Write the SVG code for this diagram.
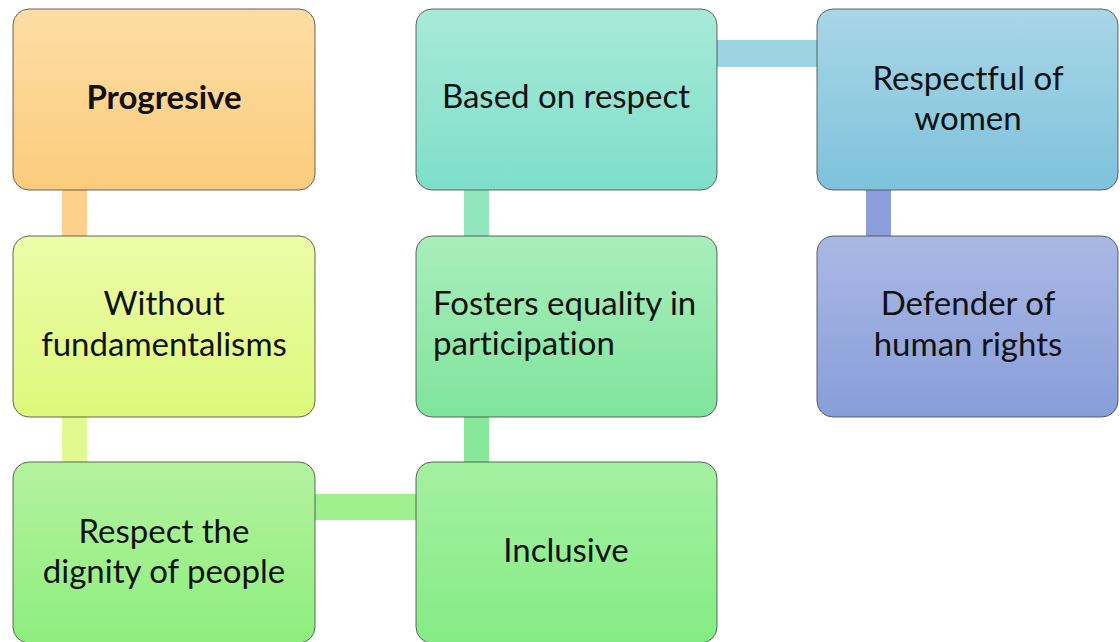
<svg xmlns="http://www.w3.org/2000/svg" width="1120" height="642" viewBox="0 0 1120 642">
  <defs>
    <linearGradient id="gOrange" x1="0" y1="0" x2="0" y2="1">
      <stop offset="0" stop-color="#FDDDA4"/>
      <stop offset="1" stop-color="#FBCC7C"/>
    </linearGradient>
    <linearGradient id="gYellow" x1="0" y1="0" x2="0" y2="1">
      <stop offset="0" stop-color="#EDFBA8"/>
      <stop offset="1" stop-color="#DCF97A"/>
    </linearGradient>
    <linearGradient id="gLime" x1="0" y1="0" x2="0" y2="1">
      <stop offset="0" stop-color="#B4F29E"/>
      <stop offset="1" stop-color="#8EEE7E"/>
    </linearGradient>
    <linearGradient id="gGreen" x1="0" y1="0" x2="0" y2="1">
      <stop offset="0" stop-color="#A4F0A2"/>
      <stop offset="1" stop-color="#84EC84"/>
    </linearGradient>
    <linearGradient id="gMint" x1="0" y1="0" x2="0" y2="1">
      <stop offset="0" stop-color="#A8EEBC"/>
      <stop offset="1" stop-color="#80E49C"/>
    </linearGradient>
    <linearGradient id="gTeal" x1="0" y1="0" x2="0" y2="1">
      <stop offset="0" stop-color="#A8EAD8"/>
      <stop offset="1" stop-color="#7EDECA"/>
    </linearGradient>
    <linearGradient id="gSky" x1="0" y1="0" x2="0" y2="1">
      <stop offset="0" stop-color="#A8D6E6"/>
      <stop offset="1" stop-color="#7EC2DC"/>
    </linearGradient>
    <linearGradient id="gPeri" x1="0" y1="0" x2="0" y2="1">
      <stop offset="0" stop-color="#AAB8E4"/>
      <stop offset="1" stop-color="#889EDA"/>
    </linearGradient>
  </defs>
  <style>
    .box { stroke: #4a4a4a; stroke-width: 1; stroke-opacity: 0.85; }
    .lbl { font-family: "Lato", "Liberation Sans", sans-serif; font-size: 33px; fill: #111; font-variant-ligatures: none; }
    .mid { text-anchor: middle; }
    .bold { font-weight: bold; }
  </style>

  <!-- links between neighbouring cards -->
  <g id="connectors">
    <rect x="62" y="190" width="25" height="46" fill="#FDD08C"/>
    <rect x="62" y="416" width="25" height="46" fill="#E2F992"/>
    <rect x="315" y="494" width="101" height="26" fill="#9EF08E"/>
    <rect x="464" y="416" width="25" height="46" fill="#88E89A"/>
    <rect x="464" y="190" width="25" height="46" fill="#92E6BE"/>
    <rect x="717" y="40" width="100" height="27" fill="#9ED4E2"/>
    <rect x="866" y="190" width="25" height="46" fill="#8C9EDA"/>
  </g>

  <g id="node-progresive">
    <rect class="box" x="13" y="9" width="302" height="181" rx="16" fill="url(#gOrange)"/>
    <text class="lbl mid bold" x="164" y="109">Progresive</text>
  </g>

  <g id="node-without-fundamentalisms">
    <rect class="box" x="13" y="236" width="302" height="181" rx="16" fill="url(#gYellow)"/>
    <text class="lbl mid" x="164" y="315">Without</text>
    <text class="lbl mid" x="164" y="356">fundamentalisms</text>
  </g>

  <g id="node-respect-dignity">
    <rect class="box" x="13" y="462" width="302" height="181" rx="16" fill="url(#gLime)"/>
    <text class="lbl mid" x="164" y="543">Respect the</text>
    <text class="lbl mid" x="164" y="583">dignity of people</text>
  </g>

  <g id="node-inclusive">
    <rect class="box" x="416" y="462" width="301" height="181" rx="16" fill="url(#gGreen)"/>
    <text class="lbl mid" x="566" y="562">Inclusive</text>
  </g>

  <g id="node-fosters-equality">
    <rect class="box" x="416" y="236" width="301" height="181" rx="16" fill="url(#gMint)"/>
    <text class="lbl" x="433" y="315">Fosters equality in</text>
    <text class="lbl" x="433" y="355">participation</text>
  </g>

  <g id="node-based-on-respect">
    <rect class="box" x="416" y="9" width="301" height="181" rx="16" fill="url(#gTeal)"/>
    <text class="lbl mid" x="566" y="108">Based on respect</text>
  </g>

  <g id="node-respectful-of-women">
    <rect class="box" x="817" y="9" width="301" height="181" rx="16" fill="url(#gSky)"/>
    <text class="lbl mid" x="968" y="90">Respectful of</text>
    <text class="lbl mid" x="968" y="130">women</text>
  </g>

  <g id="node-defender-human-rights">
    <rect class="box" x="817" y="236" width="301" height="181" rx="16" fill="url(#gPeri)"/>
    <text class="lbl mid" x="968" y="315">Defender of</text>
    <text class="lbl mid" x="968" y="356">human rights</text>
  </g>
</svg>
